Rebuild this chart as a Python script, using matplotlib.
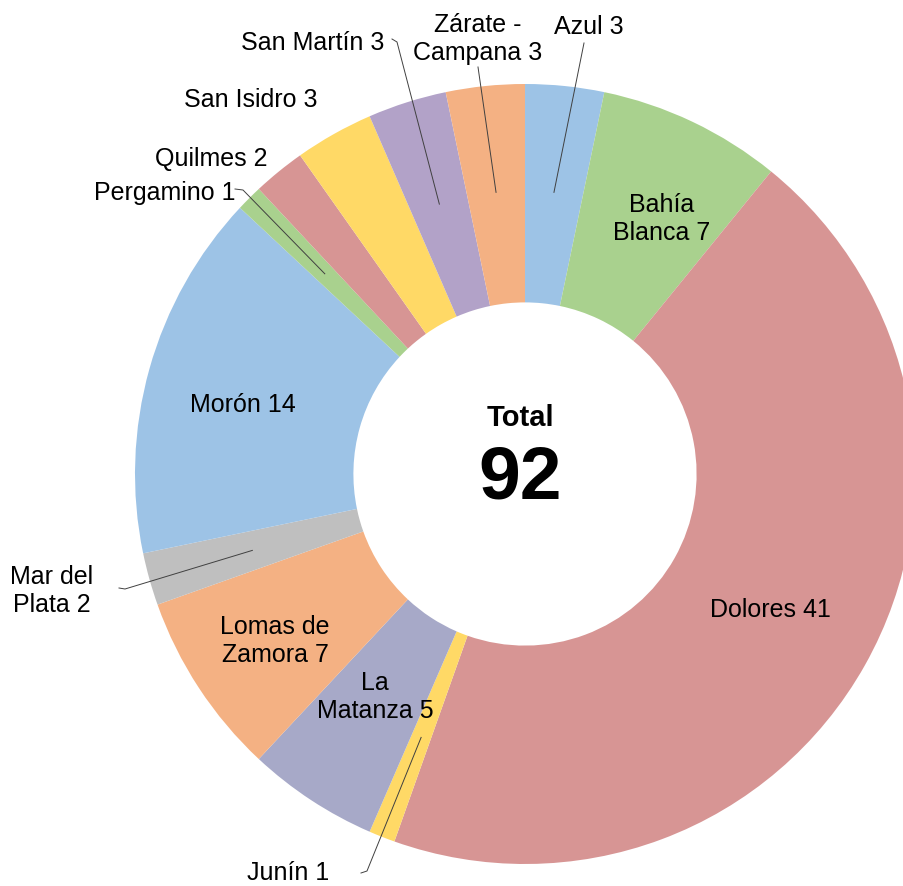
import numpy as np
import matplotlib
matplotlib.use("Agg")
import matplotlib.pyplot as plt

plt.rcParams['font.family'] = ['Liberation Sans', 'DejaVu Sans']

# Data (clockwise from 12 o'clock)
names = ["Azul", "Bahía Blanca", "Dolores", "Junín", "La Matanza", "Lomas de Zamora",
         "Mar del Plata", "Morón", "Pergamino", "Quilmes", "San Isidro", "San Martín",
         "Zárate - Campana"]
counts = [3, 7, 41, 1, 5, 7, 2, 14, 1, 2, 3, 3, 3]
label_text = ["Azul 3", "Bahía\nBlanca 7", "Dolores 41", "Junín 1", "La\nMatanza 5",
              "Lomas de\nZamora 7", "Mar del\nPlata 2", "Morón 14", "Pergamino 1",
              "Quilmes 2", "San Isidro 3", "San Martín 3", "Zárate -\nCampana 3"]
colors = ["#9DC3E6", "#A9D18E", "#D79594", "#FFD966", "#A7A9C8", "#F4B183",
          "#BFBFBF", "#9DC3E6", "#A9D18E", "#D79594", "#FFD966", "#B2A2C8", "#F4B183"]
total = sum(counts)

W, H = 904, 887
cx, cy, R = 525, H - 475, 390

fig = plt.figure(figsize=(W / 100, H / 100), dpi=100)
ax = fig.add_axes([0, 0, 1, 1])

ax.pie(counts, colors=colors, startangle=90, counterclock=False,
       center=(cx, cy), radius=R,
       wedgeprops=dict(width=R * 0.56, linewidth=0))
ax.set_xlim(0, W)
ax.set_ylim(0, H)
ax.set_aspect("equal")
ax.axis("off")

# label positions in image pixels (x, y from top), plus leader line elbow points
pos = {
    "Azul": (589, 27), "Bahía Blanca": (662, 219), "Dolores": (770, 610),
    "Junín": (288, 873), "La Matanza": (375, 697), "Lomas de Zamora": (275, 641),
    "Mar del Plata": (52, 591), "Morón": (243, 405), "Pergamino": (165, 193),
    "Quilmes": (211, 159), "San Isidro": (251, 100), "San Martín": (313, 43),
    "Zárate - Campana": (478, 39),
}
leaders = {
    "Azul": [(584, 44)],
    "Zárate - Campana": [(478, 68)],
    "San Martín": [(397, 43), (392, 40)],
    "Pergamino": [(243, 191), (235, 190)],
    "Mar del Plata": [(125, 590), (119, 589)],
    "Junín": [(367, 872), (361, 874)],
}

cum = np.cumsum([0] + counts)
for i, n in enumerate(names):
    x, y = pos[n]
    ax.text(x, H - y, label_text[i], ha="center", va="center", fontsize=18,
            color="black", linespacing=1.2)
    if n in leaders:
        mid = (cum[i] + cum[i + 1]) / 2
        ang = np.deg2rad(90 - 360 * mid / total)
        pts = [(cx + 0.726 * R * np.cos(ang), cy + 0.726 * R * np.sin(ang))]
        pts += [(px, H - py) for px, py in leaders[n]]
        xs, ys = zip(*pts)
        ax.plot(xs, ys, color="#404040", lw=0.7)

ax.text(cx - 5, H - 418, "Total", ha="center", va="center", fontsize=21,
        fontweight="bold")
ax.text(cx - 5, H - 479, str(total), ha="center", va="center", fontsize=54,
        fontweight="bold")

fig.savefig("out.png", dpi=100, facecolor="white")
